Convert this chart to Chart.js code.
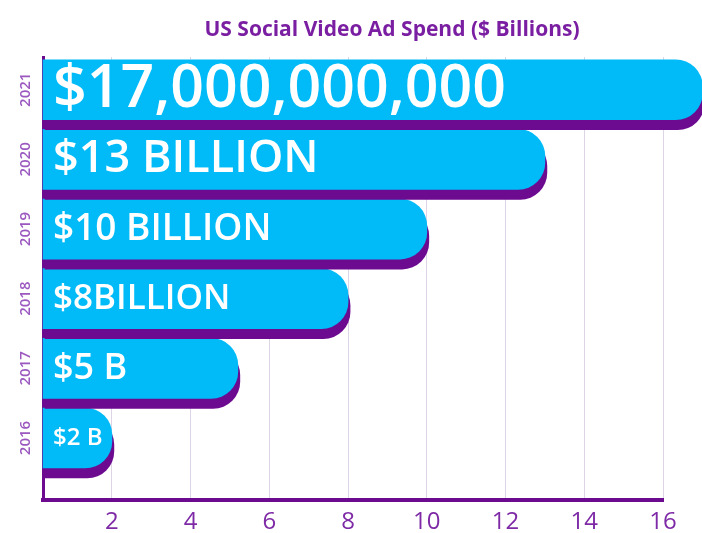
<!DOCTYPE html>
<html>
<head>
<meta charset="utf-8">
<script src="https://cdn.jsdelivr.net/npm/chart.js@4/dist/chart.umd.min.js"></script>
<style>
  html, body { margin: 0; padding: 0; background: #fff; }
  #wrap { width: 702px; height: 533px; position: relative; }
</style>
</head>
<body>
<div id="wrap"><canvas id="chart"></canvas></div>
<script>
// dados (de baixo para cima)
const years = ['2016', '2017', '2018', '2019', '2020', '2021'];
const spend = [2, 5.2, 8, 10, 13, 17];
const barLabels = ['$2 B', '$5 B', '$8BILLION', '$10 BILLION', '$13 BILLION', '$17,000,000,000'];
const xTicks = [2, 4, 6, 8, 10, 12, 14, 16];
const titleText = 'US Social Video Ad Spend ($ Billions)';

// estilo
const labelSizes = [24, 36, 35, 37, 45, 59];
const BLUE = '#00bbf8';
const PURPLE = '#6c0a90';
const FONT = '"Open Sans", sans-serif';
const X_MIN = 0.25;

// sombra roxa embaixo das barras
const shadowPlugin = {
    id: 'barShadow',
    beforeDatasetsDraw(chart) {
        const ctx = chart.ctx;
        ctx.save();
        ctx.shadowColor = PURPLE;
        ctx.shadowOffsetX = 2;
        ctx.shadowOffsetY = 10;
        ctx.shadowBlur = 0;
    },
    afterDatasetsDraw(chart) {
        chart.ctx.restore();
    }
};

// textos brancos dentro das barras + título
const textPlugin = {
    id: 'barText',
    afterDatasetsDraw(chart) {
        const ctx = chart.ctx;
        const meta = chart.getDatasetMeta(0);
        ctx.save();
        ctx.fillStyle = '#ffffff';
        ctx.textAlign = 'left';
        ctx.textBaseline = 'middle';
        meta.data.forEach((bar, i) => {
            ctx.font = '600 ' + labelSizes[i] + 'px ' + FONT;
            ctx.fillText(barLabels[i], chart.chartArea.left + 10, bar.y);
        });
        ctx.fillStyle = '#7b1fa2';
        ctx.textAlign = 'center';
        ctx.font = 'bold 21px ' + FONT;
        ctx.fillText(titleText, 392, 30);
        ctx.restore();
    }
};

new Chart(document.getElementById('chart'), {
    type: 'bar',
    data: {
        datasets: [{
            data: years.map((y, i) => ({ x: spend[i], y: i })),
            backgroundColor: BLUE,
            base: X_MIN,
            borderSkipped: false,
            borderRadius: { topLeft: 0, bottomLeft: 0, topRight: 27, bottomRight: 27 },
            barThickness: 60,
            clip: false
        }]
    },
    plugins: [shadowPlugin, textPlugin],
    options: {
        indexAxis: 'y',
        responsive: true,
        maintainAspectRatio: false,
        animation: false,
        layout: { padding: { top: 57, right: 39, left: 0, bottom: 0 } },
        plugins: { legend: { display: false }, tooltip: { enabled: false }, title: { display: false } },
        scales: {
            x: {
                type: 'linear',
                min: X_MIN,
                max: 16,
                afterBuildTicks: axis => { axis.ticks = xTicks.map(v => ({ value: v })); },
                afterFit: scale => { scale.height = 33; },
                grid: { color: '#ddd5e6', lineWidth: 1, drawTicks: false },
                border: { color: PURPLE, width: 4 },
                ticks: { color: '#7e2aa6', padding: 8, font: { family: FONT, size: 24 } }
            },
            y: {
                type: 'linear',
                offset: false,
                min: -0.89,
                max: 5.47,
                afterBuildTicks: axis => { axis.ticks = years.map((y, i) => ({ value: i })); },
                afterFit: scale => { scale.width = 43; },
                grid: { display: false, drawTicks: false, offset: false },
                border: { color: PURPLE, width: 3 },
                ticks: {
                    color: '#9b59c0',
                    minRotation: 90,
                    maxRotation: 90,
                    crossAlign: 'center',
                    padding: 0,
                    font: { family: FONT, size: 15, weight: '600' },
                    callback: v => years[v]
                }
            }
        }
    }
});
</script>
</body>
</html>
